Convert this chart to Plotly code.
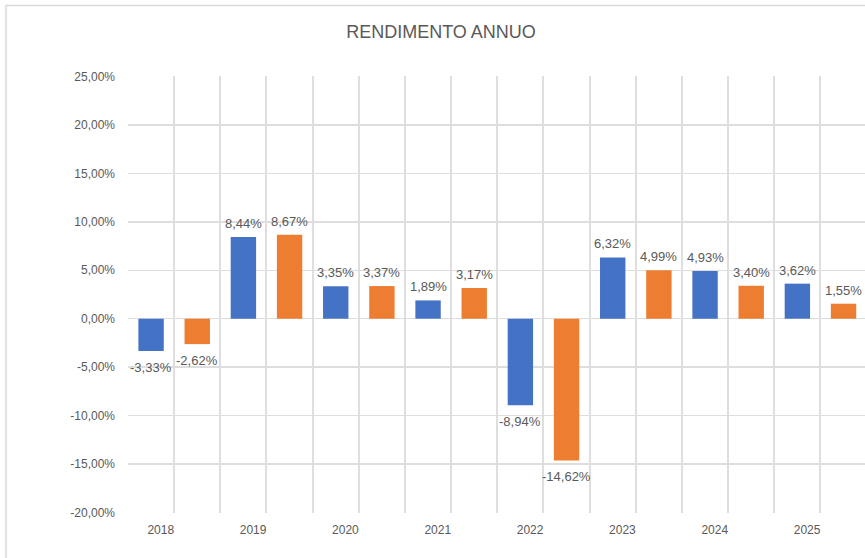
import plotly.graph_objects as go

years = ["2018", "2019", "2020", "2021", "2022", "2023", "2024", "2025"]
serie_blu = [-3.33, 8.44, 3.35, 1.89, -8.94, 6.32, 4.93, 3.62]
serie_arancio = [-2.62, 8.67, 3.37, 3.17, -14.62, 4.99, 3.40, 1.55]
y_ticks = [-20, -15, -10, -5, 0, 5, 10, 15, 20, 25]

BLUE = "#4472C4"
ORANGE = "#ED7D31"
GRAY_TXT = "#595959"
GRID = "#DEDEDE"
FONT = "Liberation Sans"


def fmt(v):
    return f"{v:.2f}%".replace(".", ",")


n = len(years)
x_blu = [2 * i for i in range(n)]
x_ara = [2 * i + 1 for i in range(n)]
label_pos = [2 * i + 0.21 for i in range(n)]
slot_edges = [k - 0.5 for k in range(2 * n + 1)]

fig = go.Figure()
annotations = []
for xs, vals, col in ((x_blu, serie_blu, BLUE), (x_ara, serie_arancio, ORANGE)):
    fig.add_trace(go.Bar(
        x=xs, y=vals, width=0.55, marker=dict(color=col, line=dict(width=0)),
        hoverinfo="skip", showlegend=False,
    ))
    for xv, v in zip(xs, vals):
        annotations.append(dict(
            x=xv, y=v, xref="x", yref="y", text=fmt(v), showarrow=False,
            xanchor="center", yanchor="middle",
            yshift=13.5 if v >= 0 else -16.5,
            font=dict(family=FONT, size=13, color=GRAY_TXT),
        ))

L, T, B = 128, 75.5, 45
W, H = 865, 558
pw = W - L
ph = H - T - B

fig.update_layout(
    width=W, height=H,
    margin=dict(l=L, r=0, t=T, b=B, pad=0),
    paper_bgcolor="white", plot_bgcolor="white",
    barmode="overlay",
    title=dict(text="RENDIMENTO ANNUO", x=441 / W, xanchor="center",
               y=1 - 31.5 / H, yanchor="middle", yref="container",
               font=dict(family=FONT, size=18, color=GRAY_TXT)),
    font=dict(family=FONT, color=GRAY_TXT),
    annotations=annotations,
    xaxis=dict(
        range=[-0.5, 15.465], tickmode="array", tickvals=label_pos, ticktext=years,
        showgrid=False, zeroline=False, showline=False, ticks="",
        tickfont=dict(family=FONT, size=12, color=GRAY_TXT),
        ticklabelstandoff=8,
        minor=dict(tickmode="array", tickvals=slot_edges, showgrid=True,
                   gridcolor=GRID, gridwidth=2, ticks=""),
    ),
    yaxis=dict(
        range=[-20.05, 25.05], tickmode="array", tickvals=y_ticks,
        ticktext=[fmt(v) for v in y_ticks],
        showgrid=True, gridcolor=GRID, gridwidth=1.5,
        zeroline=True, zerolinecolor=GRID, zerolinewidth=1.5,
        showline=False, ticks="",
        tickfont=dict(family=FONT, size=12, color=GRAY_TXT),
        ticklabelstandoff=12,
    ),
    shapes=[dict(
        type="rect", xref="paper", yref="paper",
        x0=(6 - L) / pw, x1=(W + 10 - L) / pw,
        y0=(H - B - (H + 10)) / ph, y1=(H - B - 5) / ph,
        line=dict(color="#D9D9D9", width=1.5), fillcolor="rgba(0,0,0,0)", layer="below",
    )],
)

fig.write_html(
    "out.html",
    config={"displayModeBar": False, "staticPlot": True},
    post_script="document.body.style.margin='0';document.body.style.overflow='hidden';",
)
